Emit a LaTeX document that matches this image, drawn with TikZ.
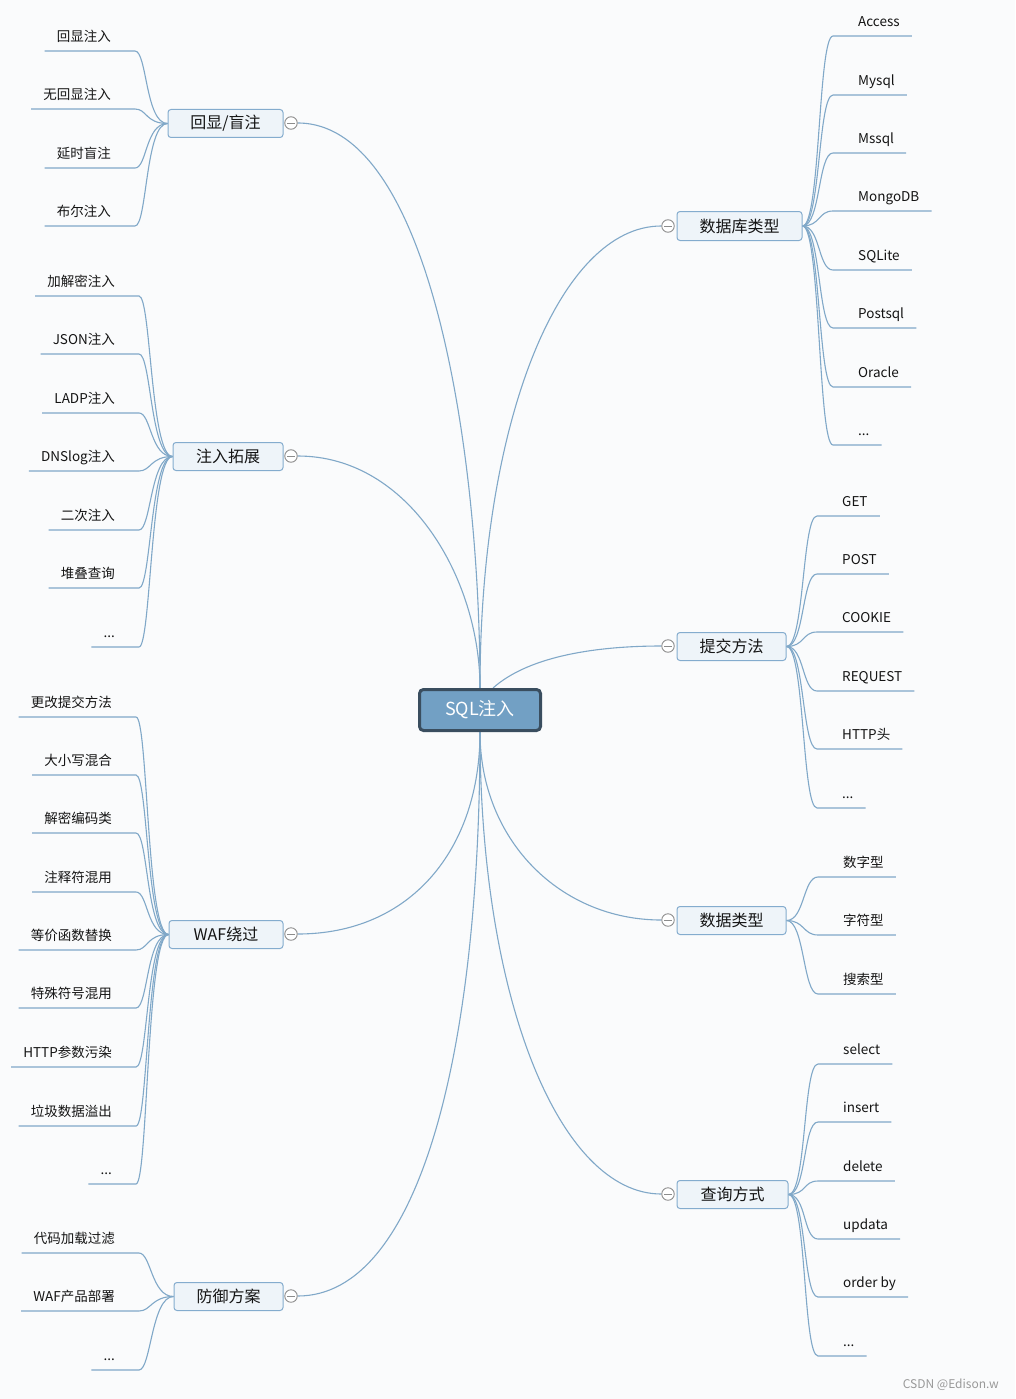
\documentclass[tikz,border=0pt]{standalone}
\usepackage{fontspec}
\setmainfont{Noto Sans CJK SC}
\usetikzlibrary{calc}
\definecolor{bgc}{RGB}{250,251,252}
\definecolor{linec}{RGB}{128,168,200}
\definecolor{brdr}{RGB}{132,172,206}
\definecolor{brfill}{RGB}{238,244,249}
\definecolor{cfill}{RGB}{114,160,196}
\definecolor{cbrdr}{RGB}{58,78,95}
\definecolor{circc}{RGB}{140,140,140}
\definecolor{txt}{RGB}{20,20,20}
\pgfdeclarelayer{bg}
\pgfsetlayers{bg,main}
\newcommand\ddd{...}
\tikzset{
  conn/.style={draw=linec, line width=1.1pt},
  leaf/.style={font=\fontsize{13.5}{16}\selectfont, text=txt, inner xsep=12pt, inner ysep=6.2pt, text height=10pt, text depth=3.3pt},
  branch/.style={draw=brdr, fill=brfill, line width=1pt, rounded corners=3pt, minimum height=28pt, inner sep=0pt, font=\fontsize{16}{18}\selectfont, text=txt},
  central/.style={draw=cbrdr, fill=cfill, line width=3pt, rounded corners=4pt, minimum width=121pt, minimum height=41pt, inner sep=0pt, font=\fontsize{18}{20}\selectfont, text=white},
  knob/.style={circle, draw=circc, fill=white, line width=0.9pt, minimum size=12.5pt, inner sep=0pt},
}
\newcommand\leftgroup[3]{%
  \foreach \lbl/\yy [count=\i] in {#3} {
    \node[leaf, anchor=south east] (#1-\i) at (#2+12,\yy) {\lbl};
    \begin{pgfonlayer}{bg}
    \draw[conn] (#1-\i.south west) -- ([xshift=12pt]#1-\i.south east) .. controls +(12,0) and +(-22,0) .. (#1.west);
    \end{pgfonlayer}
  }}
\newcommand\rightgroup[3]{%
  \foreach \lbl/\yy [count=\i] in {#3} {
    \node[leaf, anchor=south west] (#1-\i) at (#2-12,\yy) {\lbl};
    \begin{pgfonlayer}{bg}
    \draw[conn] (#1.east) .. controls +(18,0) and +(-15,0) .. ([xshift=-13pt]#1-\i.south west) -- (#1-\i.south east);
    \end{pgfonlayer}
  }}
\newcommand\knobminus[1]{\draw[circc, line width=0.9pt] ([xshift=-4pt]#1.center) -- ([xshift=4pt]#1.center);}
\begin{document}
\begin{tikzpicture}[x=1pt, y=-1pt]
\begin{pgfonlayer}{bg}
\fill[bgc] (0,0) rectangle (1015,1399);
\end{pgfonlayer}
\useasboundingbox (0,0) rectangle (1015,1399);

% central node
\node[central] (c) at (480,710) {SQL注入};

% branch nodes
\node[branch, minimum width=115pt] (b1) at (225.5,123.5) {回显/盲注};
\node[branch, minimum width=110pt] (b2) at (228,456.5) {注入拓展};
\node[branch, minimum width=114pt] (b3) at (226,934.5) {WAF绕过};
\node[branch, minimum width=109pt] (b4) at (228.5,1296.5) {防御方案};
\node[branch, minimum width=125pt, minimum height=29pt] (b5) at (739.5,226) {数据库类型};
\node[branch, minimum width=109pt] (b6) at (731.5,646.5) {提交方法};
\node[branch, minimum width=109pt] (b7) at (731.5,920.5) {数据类型};
\node[branch, minimum width=111pt] (b8) at (732.5,1194.5) {查询方式};

% collapse knobs
\node[knob] (k1) at (291,123) {};
\node[knob] (k2) at (291,456) {};
\node[knob] (k3) at (291,934) {};
\node[knob] (k4) at (291,1296) {};
\node[knob] (k5) at (668,226) {};
\node[knob] (k6) at (668,646) {};
\node[knob] (k7) at (668,920) {};
\node[knob] (k8) at (668,1194) {};
\knobminus{k1}\knobminus{k2}\knobminus{k3}\knobminus{k4}
\knobminus{k5}\knobminus{k6}\knobminus{k7}\knobminus{k8}

% main connectors
\begin{pgfonlayer}{bg}
\draw[conn] (c.north) .. controls (480,450) and (430,123) .. (k1.east);
\draw[conn] (c.north) .. controls (480,580) and (410,456) .. (k2.east);
\draw[conn] (c.south) .. controls (480,850) and (410,934) .. (k3.east);
\draw[conn] (c.south) .. controls (480,1050) and (420,1296) .. (k4.east);
\draw[conn] (c.north) .. controls (480,420) and (560,226) .. (k5.west);
\draw[conn] ([xshift=13pt]c.north) .. controls (530,655) and (600,646) .. (k6.west);
\draw[conn] (c.south) .. controls (480,840) and (560,920) .. (k7.west);
\draw[conn] (c.south) .. controls (480,1000) and (560,1194) .. (k8.west);
\end{pgfonlayer}

% leaves
\leftgroup{b1}{111}{回显注入/51, 无回显注入/109, 延时盲注/168, 布尔注入/226}
\leftgroup{b2}{115}{加解密注入/296, JSON注入/354, LADP注入/413, DNSlog注入/471, 二次注入/530, 堆叠查询/588, \ddd/647}
\leftgroup{b3}{112}{更改提交方法/717, 大小写混合/775, 解密编码类/833, 注释符混用/892, 等价函数替换/950, 特殊符号混用/1008, HTTP参数污染/1067, 垃圾数据溢出/1126, \ddd/1184}
\leftgroup{b4}{115}{代码加载过滤/1253, WAF产品部署/1311, \ddd/1370}
\rightgroup{b5}{858}{Access/36, Mysql/95, Mssql/153, MongoDB/211, SQLite/270, Postsql/328, Oracle/387, \ddd/445}
\rightgroup{b6}{842}{GET/516, POST/574, COOKIE/632, REQUEST/691, HTTP头/749, \ddd/808}
\rightgroup{b7}{843}{数字型/877, 字符型/935, 搜索型/994}
\rightgroup{b8}{843}{select/1064, insert/1122, delete/1181, updata/1239, order by/1297, \ddd/1356}

% watermark
\node[anchor=east, inner sep=0pt, text=gray!80, font=\fontsize{12}{14}\selectfont] (wm) at (999,1385) {CSDN @Edison.w};
\end{tikzpicture}
\end{document}
